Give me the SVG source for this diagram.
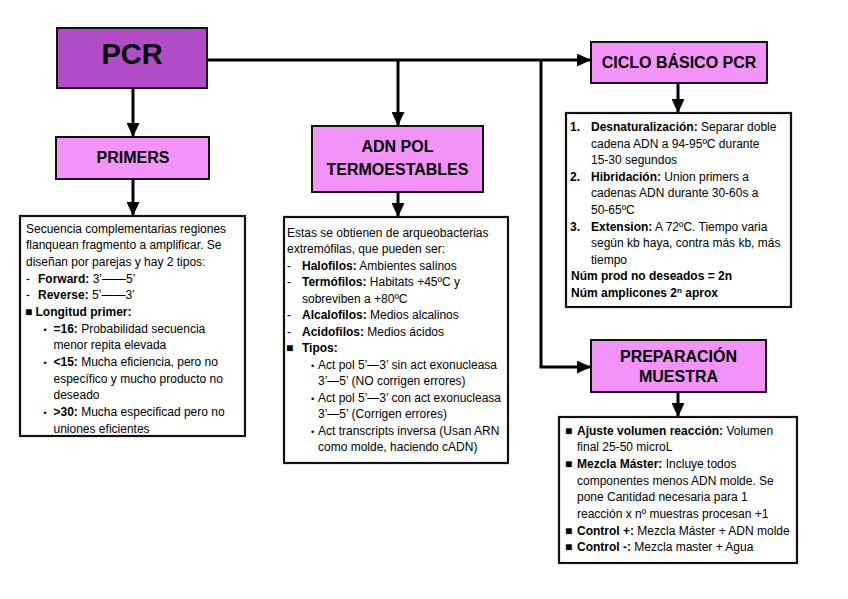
<svg xmlns="http://www.w3.org/2000/svg" width="848" height="599" viewBox="0 0 848 599">
<style>
  .box { stroke:#111; stroke-width:2; }
  .main { fill:#B24BC8; }
  .sub { fill:#F392F8; }
  .txt { fill:#fff; stroke:#111; stroke-width:2.2; }
  .conn { fill:none; stroke:#000; stroke-width:3; }
  text { font-family:"Liberation Sans", Arial, sans-serif; fill:#000; }
  .t-main { font-size:29px; font-weight:bold; text-anchor:middle; }
  .t-hdr { font-size:16px; font-weight:bold; text-anchor:middle; }
  .t-body { font-size:12px; }
  .b { font-weight:bold; }
  .dot { text-anchor:middle; font-size:9px; }
</style>
<defs>
  <marker id="arr" markerUnits="userSpaceOnUse" markerWidth="14" markerHeight="13" refX="14" refY="6.5" orient="auto">
    <path d="M0,0 L14,6.5 L0,13 z" fill="#000"/>
  </marker>
</defs>
<rect width="848" height="599" fill="#fff"/>

<g id="connectors">
  <path class="conn" d="M133,88 V137" marker-end="url(#arr)"/>
  <path class="conn" d="M133,179 V216" marker-end="url(#arr)"/>
  <path class="conn" d="M207,60 H591" marker-end="url(#arr)"/>
  <path class="conn" d="M398,60 V126" marker-end="url(#arr)"/>
  <path class="conn" d="M398,192 V217" marker-end="url(#arr)"/>
  <path class="conn" d="M541,60 V367 H591" marker-end="url(#arr)"/>
  <path class="conn" d="M678,83 V113" marker-end="url(#arr)"/>
  <path class="conn" d="M678,392 V417" marker-end="url(#arr)"/>
</g>

<g id="pcr">
  <rect class="box main" x="57" y="28" width="150" height="60"/>
  <text class="t-main" x="132" y="64">PCR</text>
</g>

<g id="primers">
  <rect class="box sub" x="56" y="137" width="153" height="42"/>
  <text class="t-hdr" x="133" y="162.5">PRIMERS</text>
</g>

<g id="primers-text">
  <rect class="txt" x="20" y="216" width="225" height="220"/>
  <text class="t-body">
    <tspan x="26" y="232.5">Secuencia complementarias regiones</tspan>
    <tspan x="26" y="249.2">flanquean fragmento a amplificar. Se</tspan>
    <tspan x="26" y="265.8">diseñan por parejas y hay 2 tipos:</tspan>
    <tspan x="26" y="282.5">-</tspan><tspan x="38" y="282.5" class="b">Forward:</tspan><tspan> 3’——5’</tspan>
    <tspan x="26" y="299.2">-</tspan><tspan x="38" y="299.2" class="b">Reverse:</tspan><tspan> 5’——3’</tspan>
    <tspan x="25" y="315.8">■</tspan><tspan x="35.5" y="315.8" class="b">Longitud primer:</tspan>
    <tspan x="45" y="332.5" class="dot">•</tspan><tspan x="53.5" y="332.5" class="b">=16:</tspan><tspan> Probabilidad secuencia</tspan>
    <tspan x="53.5" y="349.2">menor repita elevada</tspan>
    <tspan x="45" y="365.8" class="dot">•</tspan><tspan x="53.5" y="365.8" class="b">&lt;15:</tspan><tspan> Mucha eficiencia, pero no</tspan>
    <tspan x="53.5" y="382.5">específico y mucho producto no</tspan>
    <tspan x="53.5" y="399.2">deseado</tspan>
    <tspan x="45" y="415.8" class="dot">•</tspan><tspan x="53.5" y="415.8" class="b">&gt;30:</tspan><tspan> Mucha especificad pero no</tspan>
    <tspan x="53.5" y="432.5">uniones eficientes</tspan>
  </text>
</g>

<g id="adnpol">
  <rect class="box sub" x="312" y="126" width="171" height="66"/>
  <text class="t-hdr" x="397.5" y="152">ADN POL</text>
  <text class="t-hdr" x="397.5" y="175">TERMOESTABLES</text>
</g>

<g id="adnpol-text">
  <rect class="txt" x="284" y="217" width="224" height="246"/>
  <text class="t-body">
    <tspan x="287" y="236.5">Estas se obtienen de arqueobacterias</tspan>
    <tspan x="287" y="253">extremófilas, que pueden ser:</tspan>
    <tspan x="287" y="269.5">-</tspan><tspan x="302" y="269.5" class="b">Halofilos:</tspan><tspan> Ambientes salinos</tspan>
    <tspan x="287" y="286">-</tspan><tspan x="302" y="286" class="b">Termófilos:</tspan><tspan> Habitats +45ºC y</tspan>
    <tspan x="302" y="302.5">sobreviben a +80ºC</tspan>
    <tspan x="287" y="319">-</tspan><tspan x="302" y="319" class="b">Alcalofilos:</tspan><tspan> Medios alcalinos</tspan>
    <tspan x="287" y="335.5">-</tspan><tspan x="302" y="335.5" class="b">Acidofilos:</tspan><tspan> Medios ácidos</tspan>
    <tspan x="286" y="352">■</tspan><tspan x="302" y="352" class="b">Tipos:</tspan>
    <tspan x="312.5" y="368.5" class="dot">•</tspan><tspan x="318" y="368.5">Act pol 5’—3’ sin act exonucleasa</tspan>
    <tspan x="318" y="385">3’—5’ (NO corrigen errores)</tspan>
    <tspan x="312.5" y="401.5" class="dot">•</tspan><tspan x="318" y="401.5">Act pol 5’—3’ con act exonucleasa</tspan>
    <tspan x="318" y="418">3’—5’ (Corrigen errores)</tspan>
    <tspan x="312.5" y="434.5" class="dot">•</tspan><tspan x="318" y="434.5">Act transcripts inversa (Usan ARN</tspan>
    <tspan x="318" y="451">como molde, haciendo cADN)</tspan>
  </text>
</g>

<g id="ciclo">
  <rect class="box sub" x="591" y="42" width="176" height="41"/>
  <text class="t-hdr" x="679" y="67.7">CICLO BÁSICO PCR</text>
</g>

<g id="ciclo-text">
  <rect class="txt" x="566" y="113" width="225" height="194"/>
  <text class="t-body">
    <tspan x="570" y="131" class="b">1.</tspan><tspan x="591" y="131" class="b">Desnaturalización:</tspan><tspan> Separar doble</tspan>
    <tspan x="591" y="147.6">cadena ADN a 94-95ºC durante</tspan>
    <tspan x="591" y="164.2">15-30 segundos</tspan>
    <tspan x="570" y="180.8" class="b">2.</tspan><tspan x="591" y="180.8" class="b">Hibridación:</tspan><tspan> Union primers a</tspan>
    <tspan x="591" y="197.4">cadenas ADN durante 30-60s a</tspan>
    <tspan x="591" y="214">50-65ºC</tspan>
    <tspan x="570" y="230.6" class="b">3.</tspan><tspan x="591" y="230.6" class="b">Extension:</tspan><tspan> A 72ºC. Tiempo varia</tspan>
    <tspan x="591" y="247.2">según kb haya, contra más kb, más</tspan>
    <tspan x="591" y="263.8">tiempo</tspan>
    <tspan x="571" y="280.4" class="b">Núm prod no deseados = 2n</tspan>
    <tspan x="571" y="297" class="b">Núm amplicones 2</tspan><tspan class="b" font-size="8" dy="-4">n</tspan><tspan class="b" dy="4"> aprox</tspan>
  </text>
</g>

<g id="preparacion">
  <rect class="box sub" x="591" y="340" width="175" height="52"/>
  <text class="t-hdr" x="678.5" y="361.7">PREPARACIÓN</text>
  <text class="t-hdr" x="678.5" y="381.7">MUESTRA</text>
</g>

<g id="preparacion-text">
  <rect class="txt" x="559" y="417" width="238" height="146"/>
  <text class="t-body">
    <tspan x="565" y="434.5">■</tspan><tspan x="577" y="434.5" class="b">Ajuste volumen reacción:</tspan><tspan> Volumen</tspan>
    <tspan x="577" y="451.2">final 25-50 microL</tspan>
    <tspan x="565" y="467.9">■</tspan><tspan x="577" y="467.9" class="b">Mezcla Máster:</tspan><tspan> Incluye todos</tspan>
    <tspan x="577" y="484.6">componentes menos ADN molde. Se</tspan>
    <tspan x="577" y="501.3">pone Cantidad necesaria para 1</tspan>
    <tspan x="577" y="518">reacción x nº muestras procesan +1</tspan>
    <tspan x="565" y="534.7">■</tspan><tspan x="577" y="534.7" class="b">Control +:</tspan><tspan> Mezcla Máster + ADN molde</tspan>
    <tspan x="565" y="551.4">■</tspan><tspan x="577" y="551.4" class="b">Control -:</tspan><tspan> Mezcla master + Agua</tspan>
  </text>
</g>
</svg>
